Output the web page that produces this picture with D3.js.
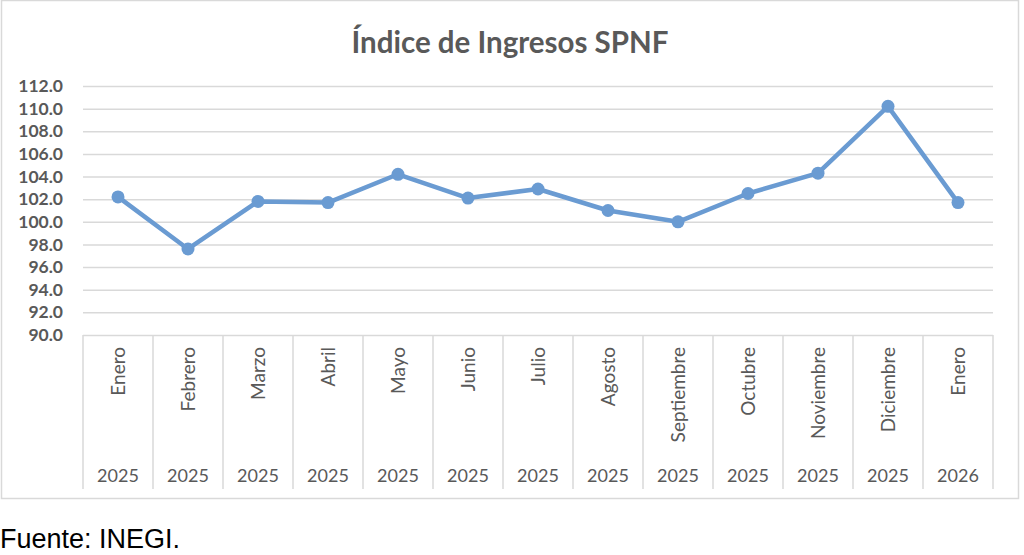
<!DOCTYPE html>
<html><head><meta charset="utf-8">
<script src="https://cdn.jsdelivr.net/npm/d3@7"></script>
<style>body{margin:0;background:#fff}svg{display:block}</style>
</head><body>
<svg id="c" width="1024" height="555"></svg>
<script>
const months = ["Enero","Febrero","Marzo","Abril","Mayo","Junio","Julio","Agosto","Septiembre","Octubre","Noviembre","Diciembre","Enero"];
const years = ["2025","2025","2025","2025","2025","2025","2025","2025","2025","2025","2025","2025","2026"];
const values = [102.2,97.6,101.8,101.7,104.2,102.1,102.9,101.0,100.0,102.5,104.3,110.2,101.7];
const yTicks = [90,92,94,96,98,100,102,104,106,108,110,112];
const title = "Índice de Ingresos SPNF";
const source = "Fuente: INEGI.";

const svg = d3.select("#c");
const L = 83, R = 993, T = 86, B = 335;
const font = "Lato, 'Open Sans', sans-serif";
const idx = d3.range(values.length);
const x = d3.scaleBand().domain(idx).range([L, R]);
const y = d3.scaleLinear().domain([90, 112]).range([B, T]);

// outer border
svg.append("rect").attr("x",1.5).attr("y",0.5).attr("width",1017).attr("height",498)
  .attr("fill","none").attr("stroke","#d9d9d9").attr("stroke-width",1.5);

svg.append("text").attr("x",510).attr("y",53).attr("text-anchor","middle")
  .attr("font-family",font).attr("font-weight","bold").attr("font-size",29.5)
  .attr("fill","#595959").text(title);

// grid
const yAxis = d3.axisLeft(y).tickValues(yTicks).tickSize(-(R-L)).tickFormat(d3.format(".1f"));
const ga = svg.append("g").attr("transform",`translate(${L},0)`).call(yAxis);
ga.select(".domain").remove();
ga.selectAll(".tick line").attr("stroke","#d9d9d9").attr("stroke-width",1.5);
ga.selectAll(".tick text").attr("x",-20).attr("font-family",font).attr("font-weight","bold")
  .attr("font-size",17.5).attr("fill","#595959");

// category axis lines
const sep = idx.concat([values.length]).map(i => i < values.length ? x(i) : R);
svg.append("g").selectAll("line").data(sep).join("line")
  .attr("x1",d=>d).attr("x2",d=>d).attr("y1",B).attr("y2",489)
  .attr("stroke","#d9d9d9").attr("stroke-width",1.5);

const xa = svg.append("g");
xa.selectAll("text.m").data(idx).join("text").attr("class","m")
  .attr("transform",i=>`translate(${x(i)+x.bandwidth()/2+7},347) rotate(-90)`)
  .attr("text-anchor","end").attr("font-family",font).attr("font-size",19).attr("fill","#595959")
  .text(i=>months[i]);
xa.selectAll("text.y").data(idx).join("text").attr("class","y")
  .attr("x",i=>x(i)+x.bandwidth()/2).attr("y",482).attr("text-anchor","middle")
  .attr("font-family",font).attr("font-size",18).attr("fill","#595959").text(i=>years[i]);

const line = d3.line().x(i=>x(i)+x.bandwidth()/2).y(i=>y(values[i]));
svg.append("path").datum(idx).attr("d",line).attr("fill","none")
  .attr("stroke","#6a9bd2").attr("stroke-width",4.5).attr("stroke-linejoin","round");
svg.append("g").selectAll("circle").data(idx).join("circle")
  .attr("cx",i=>x(i)+x.bandwidth()/2).attr("cy",i=>y(values[i])).attr("r",6.5).attr("fill","#6a9bd2");

svg.append("text").attr("x",0).attr("y",548).attr("font-family","'Liberation Sans', Arial, sans-serif")
  .attr("font-size",27).attr("fill","#000").text(source);
</script>
</body></html>
